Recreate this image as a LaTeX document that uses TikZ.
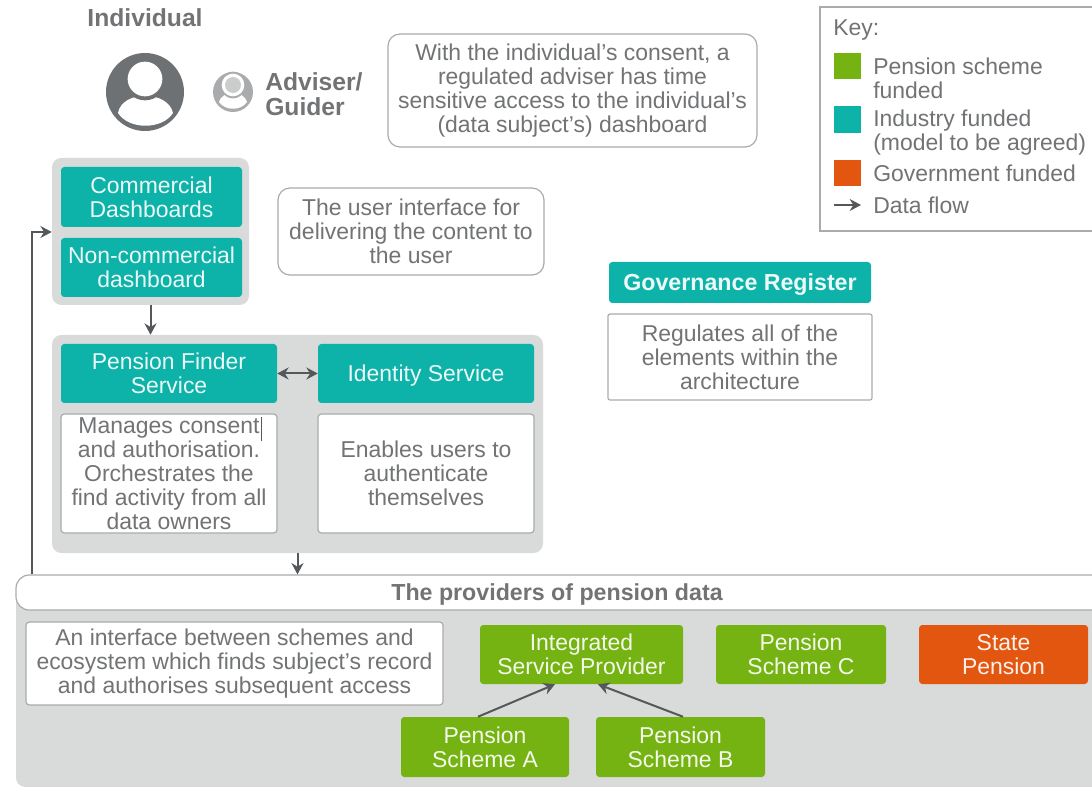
\documentclass[tikz,border=0pt]{standalone}
\usepackage{fontspec}
\setmainfont{Liberation Sans}
\usepackage[dvipsnames]{xcolor}
\usetikzlibrary{
	positioning,
	arrows.meta
}
\definecolor{tealfill}{HTML}{0DB3A8}
\definecolor{greenfill}{HTML}{74B312}
\definecolor{orangefill}{HTML}{E2560F}
\definecolor{panelgrey}{HTML}{D9DBDB}
\definecolor{linegrey}{HTML}{A9ABAC}
\definecolor{textgrey}{HTML}{717375}
\definecolor{flowgrey}{HTML}{55585A}
\tikzset{
	sized/.style 2 args={minimum width=#1*0.75pt, minimum height=#2*0.75pt},
	base/.style={align=center, inner sep=0pt, rounded corners=2.5pt, font=\fontsize{17.2}{18}\selectfont},
	oneline/.style={text height=12pt, text depth=0pt},
	panel/.style={base, fill=panelgrey, rounded corners=7pt},
	tealbox/.style={base, fill=tealfill, text=white!92!tealfill},
	greenbox/.style={base, fill=greenfill, text=white!92!greenfill},
	orangebox/.style={base, fill=orangefill, text=white!92!orangefill},
	notebox/.style={base, fill=white, draw=linegrey, line width=0.9pt, text=textgrey},
	callout/.style={notebox, rounded corners=9pt},
	keytext/.style={align=left, anchor=west, inner sep=0pt, text=textgrey, font=\fontsize{17.2}{18}\selectfont},
	swatch/.style={inner sep=0pt, minimum size=20pt},
	flow/.style={draw=flowgrey, line width=1.5pt, -{Stealth[length=8.5pt,width=9pt]}}
}

\begin{document}
\begin{tikzpicture}[x=0.75pt, y=-0.75pt]
	\useasboundingbox (0,0) rectangle (1092,787);
	\clip (0,0) rectangle (1092,787);

	% people
	\node[text=textgrey, inner sep=0pt, font=\fontsize{18.5}{20}\selectfont\bfseries] (individual) at (145,18) {Individual};
	\node[circle, fill=flowgrey!85!white, minimum size=58.5pt, inner sep=0pt] (bigface) at (145,92) {};
	\fill[white] (118,113) .. controls (122,90) and (168,90) .. (173,113) .. controls (162,130) and (129,130) .. (118,113);
	\fill[flowgrey!85!white] (145,79) circle (16pt);
	\fill[white] (145,79) circle (13pt);
	\node[circle, fill=linegrey, minimum size=30pt, inner sep=0pt] (smallface) at (233,92) {};
	\fill[white] (219,102) .. controls (222,90) and (244,90) .. (247,102) .. controls (241,111) and (225,111) .. (219,102);
	\fill[linegrey] (233,85) circle (10pt);
	\fill[white] (233,85) circle (8.5pt);
	\fill[linegrey!60!white] (233,85) circle (6pt);
	\node[align=left, anchor=west, inner sep=0pt, text=textgrey, font=\fontsize{18.5}{18.8}\selectfont\bfseries] (adviser) at (265,94) {Adviser/\\Guider};

	% grey panels
	\node[panel, sized={197}{147}] (toppanel) at (150.5,231.5) {};
	\node[panel, sized={491}{218}] (midpanel) at (297.5,444) {};
	\node[panel, sized={1100}{200}] (botpanel) at (566,687) {};

	% dashboards
	\node[tealbox, sized={181}{60}] (commercial) at (151.5,197) {Commercial\\Dashboards};
	\node[tealbox, sized={181}{59}] (noncommercial) at (151.5,267.5) {Non-commercial\\dashboard};
	\node[callout, sized={369}{113}] (consentnote) at (572.5,90.5) {With the individual’s consent, a\\regulated adviser has time\\sensitive access to the individual’s\\(data subject’s) dashboard};
	\node[callout, sized={266}{87}] (usernote) at (411,231.5) {The user interface for\\delivering the content to\\the user};

	% finder and identity
	\node[tealbox, sized={216}{59}] (finder) at (169,373.5) {Pension Finder\\Service};
	\node[tealbox, oneline, sized={216}{59}] (identity) at (426,373.5) {Identity Service};
	\node[notebox, sized={216}{119}] (findernote) at (169,473.5) {Manages consent\\and authorisation.\\Orchestrates the\\find activity from all\\data owners};
	\node[notebox, sized={216}{119}] (identitynote) at (426,473.5) {Enables users to\\authenticate\\themselves};
	\draw[flowgrey, line width=0.7pt] (261,417) -- (261,441);

	% governance
	\node[tealbox, oneline, sized={262}{41}, font=\fontsize{17.4}{18}\selectfont\bfseries] (governance) at (740,282.5) {Governance Register};
	\node[notebox, rounded corners=1.5pt, sized={264}{86}] (governancenote) at (740,357) {Regulates all of the\\elements within the\\architecture};

	% providers
	\node[callout, sized={1100}{35}, rounded corners=10pt] (providers) at (566,592.5) {};
	\node[text=textgrey, inner sep=0pt, oneline, font=\fontsize{17.4}{18}\selectfont\bfseries] (providerstext) at (557,592.5) {The providers of pension data};
	\node[notebox, sized={417}{83}] (interfacenote) at (234.5,663.5) {An interface between schemes and\\ecosystem which finds subject’s record\\and authorises subsequent access};
	\node[greenbox, sized={203}{59}] (integrated) at (581.5,654.5) {Integrated\\Service Provider};
	\node[greenbox, sized={170}{59}] (schemec) at (801,654.5) {Pension\\Scheme C};
	\node[orangebox, sized={169}{59}] (state) at (1003.5,654.5) {State\\Pension};
	\node[greenbox, sized={168}{60}] (schemea) at (485,747) {Pension\\Scheme A};
	\node[greenbox, sized={169}{60}] (schemeb) at (680.5,747) {Pension\\Scheme B};

	% key
	\node[draw=linegrey, fill=white, line width=0.9pt, inner sep=0pt, sized={300}{224}] (keybox) at (970,119) {};
	\node[keytext] (keytitle) at (833,30) {Key:};
	\node[swatch, fill=greenfill] (keygreen) at (847.5,66) {};
	\node[swatch, fill=tealfill] (keyteal) at (847.5,119.5) {};
	\node[swatch, fill=orangefill] (keyorange) at (847.5,173) {};
	\node[keytext] (keygreentext) at (873,78) {Pension scheme\\funded};
	\node[keytext] (keytealtext) at (873,133) {Industry funded\\(model to be agreed)};
	\node[keytext] (keyorangetext) at (873,173) {Government funded};
	\node[keytext] (keyflowtext) at (873,205) {Data flow};
	\coordinate (keyflowstart) at (834,205);
	\draw[flow, shorten >=9pt] (keyflowstart) -- (keyflowtext.west);

	% data flows
	\coordinate (feedbend) at (32,232);
	\draw[flow] (providers.north -| feedbend) -- (feedbend) -- (toppanel.west |- feedbend);
	\draw[flow] (toppanel.south) -- (toppanel.south |- midpanel.north);
	\draw[flow] (midpanel.south) -- (midpanel.south |- providers.north);
	\draw[flow, {Stealth[length=8.5pt,width=9pt]}-{Stealth[length=8.5pt,width=9pt]}] (finder) -- (identity);
	\draw[flow] (schemea.north -| 478,0) -- (integrated.south -| 555,0);
	\draw[flow] (schemeb.north -| 683,0) -- (integrated.south -| 598,0);
\end{tikzpicture}
\end{document}
